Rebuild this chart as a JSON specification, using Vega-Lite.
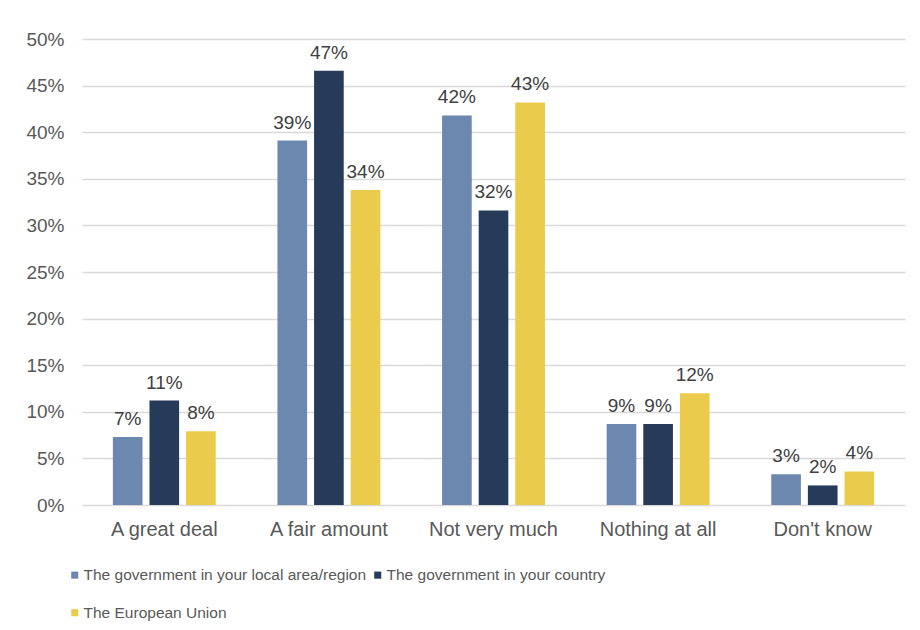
{
  "$schema": "https://vega.github.io/schema/vega-lite/v6.json",
  "width": 823,
  "height": 466,
  "autosize": {"type": "none"},
  "padding": {"left": 82, "top": 39, "right": 15, "bottom": 125},
  "background": "white",
  "config": {
    "font": "Liberation Sans",
    "view": {"stroke": null}
  },
  "data": {
    "values": [
      {"category": "A great deal", "series": "The government in your local area/region", "value": 0.073},
      {"category": "A great deal", "series": "The government in your country", "value": 0.112},
      {"category": "A great deal", "series": "The European Union", "value": 0.079},
      {"category": "A fair amount", "series": "The government in your local area/region", "value": 0.391},
      {"category": "A fair amount", "series": "The government in your country", "value": 0.466},
      {"category": "A fair amount", "series": "The European Union", "value": 0.338},
      {"category": "Not very much", "series": "The government in your local area/region", "value": 0.418},
      {"category": "Not very much", "series": "The government in your country", "value": 0.316},
      {"category": "Not very much", "series": "The European Union", "value": 0.432},
      {"category": "Nothing at all", "series": "The government in your local area/region", "value": 0.087},
      {"category": "Nothing at all", "series": "The government in your country", "value": 0.087},
      {"category": "Nothing at all", "series": "The European Union", "value": 0.12},
      {"category": "Don't know", "series": "The government in your local area/region", "value": 0.033},
      {"category": "Don't know", "series": "The government in your country", "value": 0.021},
      {"category": "Don't know", "series": "The European Union", "value": 0.036}
    ]
  },
  "encoding": {
    "x": {
      "field": "category", "type": "nominal", "sort": null,
      "scale": {"paddingInner": 0.375, "paddingOuter": 0.1875},
      "axis": {"title": null, "labelAngle": 0, "labelFontSize": 20, "labelColor": "#595959", "ticks": false, "domain": false, "labelPadding": 14}
    },
    "xOffset": {
      "field": "series", "type": "nominal", "sort": null,
      "scale": {"paddingInner": 0.19, "paddingOuter": 0}
    },
    "y": {
      "field": "value", "type": "quantitative",
      "scale": {"domain": [0, 0.5]},
      "axis": {"title": null, "format": ".0%", "values": [0,0.05,0.1,0.15,0.2,0.25,0.3,0.35,0.4,0.45,0.5], "labelOverlap": false, "labelFontSize": 19, "labelColor": "#595959", "ticks": false, "domain": false, "labelPadding": 18, "gridColor": "#d9d9d9", "gridWidth": 1.5}
    }
  },
  "layer": [
    {
      "mark": {"type": "bar"},
      "encoding": {
        "color": {
          "field": "series", "type": "nominal", "sort": null,
          "scale": {
            "domain": ["The government in your local area/region", "The government in your country", "The European Union"],
            "range": ["#6d88ae", "#263a59", "#ebcb4c"]
          },
          "legend": {
            "title": null, "orient": "none", "legendX": -15, "legendY": 528,
            "direction": "horizontal", "columns": 2, "columnPadding": 3, "rowPadding": 21,
            "symbolType": "square", "symbolSize": 50, "symbolStrokeWidth": 0,
            "labelFontSize": 15.5, "labelColor": "#595959", "labelOffset": 1, "labelLimit": 0
          }
        }
      }
    },
    {
      "mark": {"type": "text", "baseline": "alphabetic", "dy": -12, "fontSize": 19, "color": "#404040"},
      "encoding": {
        "text": {"field": "value", "type": "quantitative", "format": ".0%"}
      }
    }
  ]
}
